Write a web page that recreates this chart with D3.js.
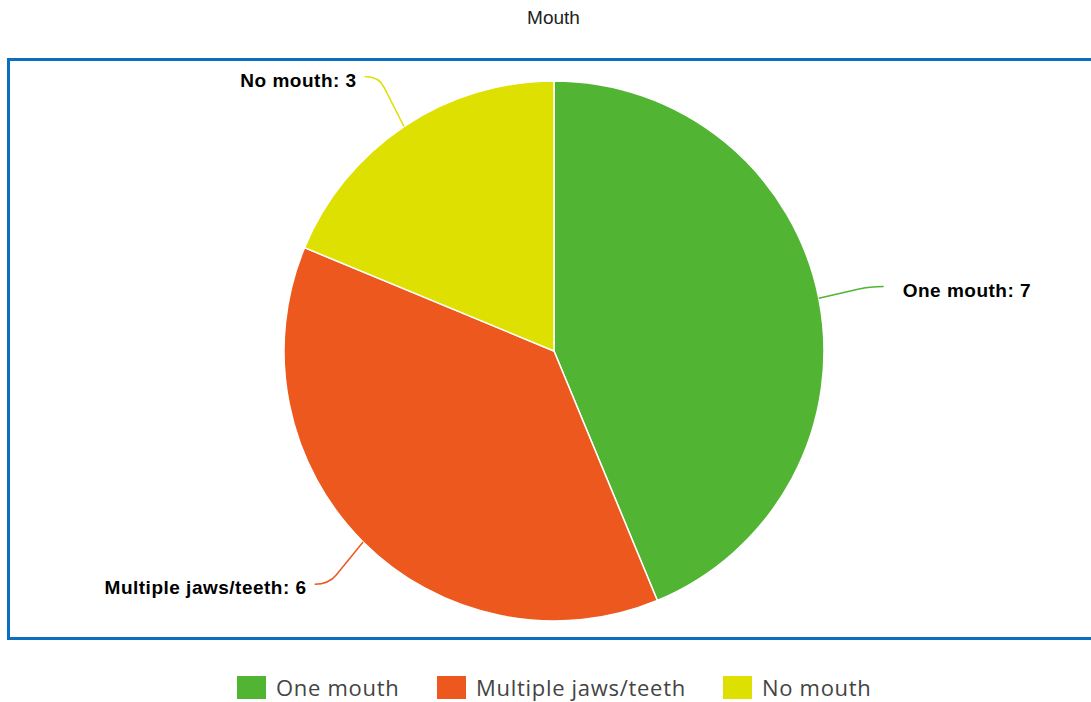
<!DOCTYPE html>
<html>
<head>
<meta charset="utf-8">
<script src="https://cdn.jsdelivr.net/npm/d3@7"></script>
<style>
  html, body { margin: 0; padding: 0; background: #fff; }
  svg { display: block; }
</style>
</head>
<body>
<svg id="chart" width="1091" height="702"></svg>
<script>
// Mouth types and their counts
const categories = ["One mouth", "Multiple jaws/teeth", "No mouth"];
const counts = [7, 6, 3];
const colors = ["#52b433", "#ec581d", "#dde000"];

const W = 1091, H = 702;
const cx = 554, cy = 351, radius = 270;
const labelRadius = 330;

const svg = d3.select("#chart");

// title
svg.append("text")
  .attr("x", W / 2 + 8).attr("y", 24)
  .attr("text-anchor", "middle")
  .attr("font-family", "Liberation Sans, Arial, sans-serif")
  .attr("font-size", 19)
  .attr("fill", "#222")
  .text("Mouth");

// plot frame (open on the right side)
svg.append("path")
  .attr("d", `M${W + 5},59.5 H8.5 V638.5 H${W + 5}`)
  .attr("fill", "none")
  .attr("stroke", "#0b6fc1")
  .attr("stroke-width", 3);

const pie = d3.pie().sort(null).value(d => d)(counts);
const arc = d3.arc().innerRadius(0).outerRadius(radius);

const g = svg.append("g").attr("transform", `translate(${cx},${cy})`);

g.selectAll("path.slice")
  .data(pie)
  .join("path")
  .attr("class", "slice")
  .attr("d", arc)
  .attr("fill", (d, i) => colors[i])
  .attr("stroke", "#fff")
  .attr("stroke-width", 1.5)
  .attr("stroke-linejoin", "round");

// data labels with crooked connectors
pie.forEach((d, i) => {
  const a = (d.startAngle + d.endAngle) / 2;
  const side = Math.sin(a) >= 0 ? 1 : -1;
  const s = [radius * Math.sin(a), -radius * Math.cos(a)];
  const e = [labelRadius * Math.sin(a) + side * 6, -labelRadius * Math.cos(a)];
  const c = [e[0] - side * 14, e[1]];
  const dx = s[0] - c[0], dy = s[1] - c[1];
  const len = Math.hypot(dx, dy);
  const p = [c[0] + dx / len * 12, c[1] + dy / len * 12];
  const path = d3.path();
  path.moveTo(s[0], s[1]);
  path.lineTo(p[0], p[1]);
  path.quadraticCurveTo(c[0], c[1], e[0], e[1]);
  g.append("path")
    .attr("d", path.toString())
    .attr("fill", "none")
    .attr("stroke", colors[i])
    .attr("stroke-width", 1.5);

  g.append("text")
    .attr("x", e[0] + side * (side > 0 ? 19 : 8))
    .attr("y", e[1] + 10)
    .attr("text-anchor", side > 0 ? "start" : "end")
    .attr("font-family", "Liberation Sans, Arial, sans-serif")
    .attr("font-weight", "bold")
    .attr("font-size", 19)
    .attr("letter-spacing", 0.5)
    .attr("fill", "#000")
    .text(`${categories[i]}: ${counts[i]}`);
});

// legend
const legend = svg.append("g").attr("transform", "translate(0,676)");
const itemX = [237, 437, 723];
categories.forEach((name, i) => {
  const it = legend.append("g").attr("transform", `translate(${itemX[i]},0)`);
  it.append("rect")
    .attr("width", 29).attr("height", 23)
    .attr("fill", colors[i]);
  it.append("text")
    .attr("x", 39).attr("y", 20)
    .attr("font-family", "Open Sans, sans-serif")
    .attr("font-size", 22)
    .attr("letter-spacing", 0.7)
    .attr("fill", "#444")
    .text(name);
});
</script>
</body>
</html>
